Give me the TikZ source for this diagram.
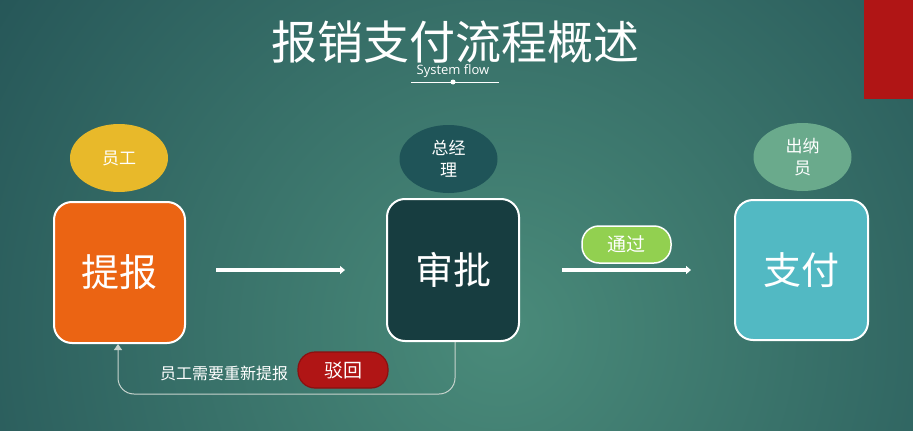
\documentclass[tikz,border=0pt]{standalone}
\usepackage{fontspec}
\newfontfamily\cjk{Noto Sans CJK SC}
\setsansfont{Open Sans}
\usetikzlibrary{arrows.meta,shapes.geometric}
\definecolor{bginner}{HTML}{4A8B7A}
\definecolor{bgouter}{HTML}{163F49}
\definecolor{yellowc}{HTML}{E8B92A}
\definecolor{orangec}{HTML}{EB6413}
\definecolor{darkc}{HTML}{173D40}
\definecolor{tealc}{HTML}{1F5458}
\definecolor{cyanc}{HTML}{52B9C3}
\definecolor{greenc}{HTML}{6AAA8C}
\definecolor{limec}{HTML}{92D050}
\definecolor{redc}{HTML}{B01515}
\definecolor{redborder}{HTML}{8B1010}
\definecolor{linec}{HTML}{C8D4CE}
\tikzset{
  role/.style={ellipse, minimum width=98pt, minimum height=68pt, inner sep=0pt,
    text=white, font=\cjk\fontsize{17}{22}\selectfont, align=center},
  stepbox/.style={rectangle, rounded corners=18pt, draw=white, line width=2pt,
    inner sep=0pt, text=white, font=\cjk\fontsize{38}{40}\selectfont},
  pill/.style={rectangle, rounded corners=17pt, inner sep=0pt, text=white,
    font=\cjk\fontsize{19}{22}\selectfont},
  flow/.style={draw=white, line width=3.5pt, -{Triangle[length=5pt,width=8pt]}},
  back/.style={draw=linec, line width=1pt, rounded corners=16pt, -{Triangle[length=6pt,width=8pt]}}
}
\begin{document}
\begin{tikzpicture}[x=1pt,y=-1pt]
\useasboundingbox (0,0) rectangle (913,431);
\begin{scope}
\clip (0,0) rectangle (913,431);
\shade[inner color=bginner, outer color=bgouter] (500,330) circle (880);
\end{scope}
% red corner block
\node[rectangle, fill=redc, minimum width=49pt, minimum height=99pt, inner sep=0pt] (redblock) at (888.5,49.5) {};
% title
\node[text=white, font=\cjk\fontsize{46}{50}\selectfont] (title) at (455,42) {报销支付流程概述};
\node[text=white, font=\sffamily\fontsize{13}{15}\selectfont] (sub) at (453,71) {System flow};
\coordinate (ul) at (411,82);
\coordinate (ur) at (499,82);
\draw[white, line width=0.8pt] (ul) -- (ur);
\fill[white] (453,82) circle (2.5pt);
% roles
\node[role, fill=yellowc] (e1) at (119,158) {员工};
\node[role, fill=tealc] (e2) at (448.5,159) {总经\\理};
\node[role, fill=greenc] (e3) at (802.5,157) {出纳\\员};
% steps
\node[stepbox, fill=orangec, minimum width=131pt, minimum height=141pt] (tb) at (119.5,272.5) {提报};
\node[stepbox, fill=darkc, minimum width=132pt, minimum height=142pt] (sp) at (453,270) {审批};
\node[stepbox, fill=cyanc, minimum width=133pt, minimum height=140pt] (zf) at (801.5,270) {支付};
% arrows
\draw[flow, shorten <=30pt, shorten >=41pt] (tb.east |- 0,270) -- (sp.west);
\draw[flow, shorten <=42pt, shorten >=43pt] (sp.east) -- (zf.west);
\node[pill, fill=limec, draw=white, line width=1.5pt, minimum width=89pt, minimum height=37pt] (pass) at (626.5,244.5) {通过};
% feedback
\draw[back] ([xshift=2pt]sp.south) -- ++(0,52) -| ([xshift=-1.5pt]tb.south);
\node[text=white, font=\cjk\fontsize{16}{18}\selectfont] (note) at (224,373) {员工需要重新提报};
\node[pill, fill=redc, draw=redborder, line width=1.2pt, minimum width=90pt, minimum height=36pt] (reject) at (343,370) {驳回};
\end{tikzpicture}
\end{document}
